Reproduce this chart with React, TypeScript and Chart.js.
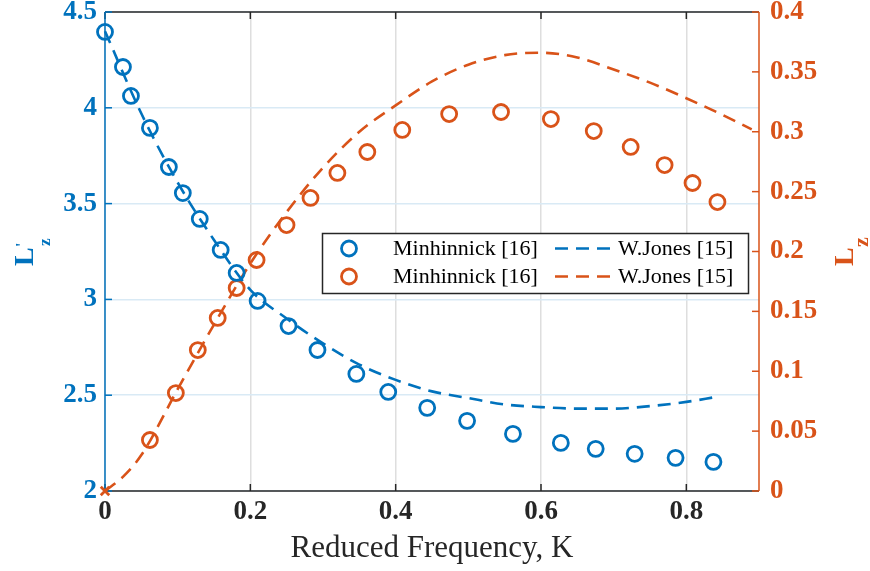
import React, { useEffect, useRef } from 'react';
import { Chart, registerables } from 'chart.js';

Chart.register(...registerables);

const BLUE = '#0072BD';
const ORANGE = '#D95319';
const FONT = "'Liberation Serif', 'DejaVu Serif', serif";

// L'z (left axis) — Minhinnick [16] measured points
const minLzpK = [0, 0.0247, 0.0357, 0.0618, 0.0879, 0.1071, 0.1304, 0.1592, 0.1812, 0.21, 0.2526, 0.2924, 0.3459, 0.3898, 0.4434, 0.4983, 0.5614, 0.6273, 0.6753, 0.7289, 0.7852, 0.8373];
const minLzpVal = [4.396, 4.213, 4.062, 3.895, 3.691, 3.555, 3.42, 3.258, 3.138, 2.992, 2.861, 2.736, 2.611, 2.517, 2.434, 2.366, 2.298, 2.251, 2.22, 2.194, 2.173, 2.152];

// L'z (left axis) — W.Jones [15] curve
const jonLzpK = [0, 0.05, 0.1, 0.15, 0.2, 0.25, 0.3, 0.35, 0.4, 0.45, 0.5, 0.55, 0.6, 0.65, 0.7, 0.75, 0.8, 0.84];
const jonLzpVal = [4.4, 3.97, 3.61, 3.31, 3.05, 2.9, 2.77, 2.66, 2.58, 2.52, 2.485, 2.452, 2.438, 2.43, 2.43, 2.443, 2.465, 2.49];

// Lz (right axis) — Minhinnick [16] measured points
const minLzK = [0.0618, 0.0975, 0.1277, 0.1551, 0.1812, 0.2086, 0.2498, 0.2828, 0.3198, 0.361, 0.4091, 0.4736, 0.545, 0.6136, 0.6726, 0.7234, 0.7701, 0.8085, 0.8428];
const minLzVal = [0.0426, 0.0818, 0.1177, 0.1445, 0.1695, 0.1929, 0.2221, 0.2447, 0.2656, 0.2831, 0.3015, 0.3148, 0.3165, 0.3106, 0.3006, 0.2873, 0.2722, 0.2572, 0.2413];

// Lz (right axis) — W.Jones [15] curve
const jonLzK = [0, 0.025, 0.05, 0.1, 0.15, 0.2, 0.25, 0.3, 0.35, 0.4, 0.45, 0.5, 0.55, 0.6, 0.65, 0.7, 0.75, 0.8, 0.85, 0.89];
const jonLzVal = [0, 0.012, 0.03, 0.085, 0.139, 0.19, 0.233, 0.27, 0.3, 0.322, 0.342, 0.356, 0.364, 0.366, 0.362, 0.352, 0.341, 0.328, 0.314, 0.302];

// origin marker (orange cross)
const originK = [0];
const originVal = [0];

const xTicks = [0, 0.2, 0.4, 0.6, 0.8];
const yLeftTicks = [2, 2.5, 3, 3.5, 4, 4.5];
const yRightTicks = [0, 0.05, 0.1, 0.15, 0.2, 0.25, 0.3, 0.35, 0.4];
const legendLabels = ['Minhinnick [16]', 'W.Jones [15]'];
const xTitle = 'Reduced Frequency, K';

const pts = (xs: number[], ys: number[]) => xs.map((x, i) => ({ x, y: ys[i] }));
const fmt = (v: number | string) => String(+Number(v).toFixed(2));

function line(ctx: CanvasRenderingContext2D, x1: number, y1: number, x2: number, y2: number) {
  ctx.beginPath();
  ctx.moveTo(x1, y1);
  ctx.lineTo(x2, y2);
  ctx.stroke();
}

const zeroPad = (s: any) => {
  s.paddingTop = 0;
  s.paddingBottom = 0;
  s.paddingLeft = 0;
  s.paddingRight = 0;
};

const axesPlugin = {
  id: 'matlabAxes',
  beforeDatasetsDraw(chart: any) {
    const { ctx, chartArea, scales } = chart;
    const { left, right, top, bottom } = chartArea;
    ctx.save();
    ctx.lineWidth = 1.5;
    ctx.strokeStyle = '#262626';
    line(ctx, left, top, right, top);
    line(ctx, left, bottom, right, bottom);
    xTicks.forEach((v) => {
      const px = scales.x.getPixelForValue(v);
      line(ctx, px, bottom, px, bottom - 7);
      line(ctx, px, top, px, top + 7);
    });
    ctx.strokeStyle = BLUE;
    line(ctx, left, top, left, bottom);
    yLeftTicks.forEach((v) => {
      const py = scales.yL.getPixelForValue(v);
      line(ctx, left, py, left + 7, py);
    });
    ctx.strokeStyle = ORANGE;
    line(ctx, right, top, right, bottom);
    yRightTicks.forEach((v) => {
      const py = scales.yR.getPixelForValue(v);
      line(ctx, right, py, right - 7, py);
    });
    ctx.restore();
  },
  afterDraw(chart: any) {
    const { ctx } = chart;
    const drawTitle = (tx: number, ty: number, color: string, prime: boolean, zSize: number, zX: number, zY: number) => {
      ctx.save();
      ctx.translate(tx, ty);
      ctx.rotate(-Math.PI / 2);
      ctx.fillStyle = color;
      ctx.textAlign = 'left';
      ctx.textBaseline = 'alphabetic';
      ctx.font = `bold 28px ${FONT}`;
      ctx.fillText('L', 0, 0);
      if (prime) {
        ctx.font = `bold 16px ${FONT}`;
        ctx.fillText("'", 19, -6);
      }
      ctx.font = `bold ${zSize}px ${FONT}`;
      ctx.fillText('z', zX, zY);
      ctx.restore();
    };
    drawTitle(33, 266, BLUE, true, 17, 20, 17);
    drawTitle(853, 266, ORANGE, false, 22, 19, 15);
  },
};

const legendPlugin = {
  id: 'boxLegend',
  afterDatasetsDraw(chart: any) {
    const { ctx } = chart;
    const ds = chart.data.datasets;
    const bx = 322.5, by = 233.5, bw = 426, bh = 60;
    ctx.save();
    ctx.fillStyle = '#ffffff';
    ctx.fillRect(bx, by, bw, bh);
    ctx.lineWidth = 1.5;
    ctx.strokeStyle = '#262626';
    ctx.strokeRect(bx, by, bw, bh);
    const rows = [
      { marker: ds[0], ln: ds[1], y: 248.5 },
      { marker: ds[2], ln: ds[3], y: 276.5 },
    ];
    rows.forEach((r) => {
      ctx.beginPath();
      ctx.lineWidth = r.marker.borderWidth;
      ctx.strokeStyle = r.marker.borderColor;
      ctx.arc(349, r.y, r.marker.pointRadius, 0, Math.PI * 2);
      ctx.stroke();
      ctx.fillStyle = '#000000';
      ctx.font = `22px ${FONT}`;
      ctx.textBaseline = 'middle';
      ctx.textAlign = 'left';
      ctx.fillText(r.marker.label, 393, r.y + 1);
      ctx.setLineDash(r.ln.borderDash);
      ctx.lineWidth = r.ln.borderWidth;
      ctx.strokeStyle = r.ln.borderColor;
      line(ctx, 555, r.y, 615, r.y);
      ctx.setLineDash([]);
      ctx.fillText(r.ln.label, 618, r.y + 1);
    });
    ctx.restore();
  },
};

export default function App() {
  const canvasRef = useRef<HTMLCanvasElement | null>(null);

  useEffect(() => {
    if (!canvasRef.current) return;
    const tickFont = { family: FONT, size: 27, weight: 'bold' as const };
    const chart = new Chart(canvasRef.current, {
      type: 'scatter',
      data: {
        datasets: [
          {
            label: legendLabels[0],
            data: pts(minLzpK, minLzpVal),
            yAxisID: 'yL',
            borderColor: BLUE,
            backgroundColor: 'rgba(0,0,0,0)',
            pointRadius: 7.5,
            pointHoverRadius: 7.5,
            borderWidth: 2.8,
            showLine: false,
            clip: false as any,
          },
          {
            label: legendLabels[1],
            data: pts(jonLzpK, jonLzpVal),
            yAxisID: 'yL',
            borderColor: BLUE,
            backgroundColor: BLUE,
            pointRadius: 0,
            borderWidth: 2.6,
            borderDash: [13, 8],
            showLine: true,
            cubicInterpolationMode: 'monotone',
            clip: false as any,
          },
          {
            label: legendLabels[0],
            data: pts(minLzK, minLzVal),
            yAxisID: 'yR',
            borderColor: ORANGE,
            backgroundColor: 'rgba(0,0,0,0)',
            pointRadius: 7.5,
            pointHoverRadius: 7.5,
            borderWidth: 2.8,
            showLine: false,
            clip: false as any,
          },
          {
            label: legendLabels[1],
            data: pts(jonLzK, jonLzVal),
            yAxisID: 'yR',
            borderColor: ORANGE,
            backgroundColor: ORANGE,
            pointRadius: 0,
            borderWidth: 2.6,
            borderDash: [13, 8],
            showLine: true,
            cubicInterpolationMode: 'monotone',
            clip: false as any,
          },
          {
            label: '',
            data: pts(originK, originVal),
            yAxisID: 'yR',
            borderColor: ORANGE,
            pointStyle: 'crossRot',
            pointRadius: 6,
            borderWidth: 2.8,
            showLine: false,
            clip: false as any,
          },
        ],
      },
      options: {
        responsive: false,
        animation: false,
        events: [],
        layout: { padding: { top: 12, left: 0, right: 0, bottom: 0 } },
        plugins: { legend: { display: false }, tooltip: { enabled: false } },
        scales: {
          x: {
            type: 'linear',
            min: 0,
            max: 0.9,
            afterBuildTicks: (s: any) => { s.ticks = xTicks.map((value) => ({ value })); },
            afterFit: (s: any) => { s.height = 80; zeroPad(s); },
            grid: { color: 'rgb(222,222,222)', lineWidth: 1.5, drawTicks: false },
            border: { display: false },
            ticks: { font: tickFont, color: '#262626', padding: 5, callback: fmt, maxRotation: 0, autoSkip: false },
            title: { display: true, text: xTitle, color: '#262626', font: { family: FONT, size: 31 }, padding: { top: 0, bottom: 4 } },
          },
          yL: {
            type: 'linear',
            position: 'left',
            min: 2,
            max: 4.5,
            afterBuildTicks: (s: any) => { s.ticks = yLeftTicks.map((value) => ({ value })); },
            afterFit: (s: any) => { s.width = 105; zeroPad(s); },
            grid: { color: 'rgb(217,234,245)', lineWidth: 1.5, drawTicks: false },
            border: { display: false },
            ticks: { font: tickFont, color: BLUE, padding: 8, callback: fmt, autoSkip: false },
          },
          yR: {
            type: 'linear',
            position: 'right',
            min: 0,
            max: 0.4,
            afterBuildTicks: (s: any) => { s.ticks = yRightTicks.map((value) => ({ value })); },
            afterFit: (s: any) => { s.width = 111; zeroPad(s); },
            grid: { display: false, drawTicks: false },
            border: { display: false },
            ticks: { font: tickFont, color: ORANGE, padding: 11, callback: fmt, autoSkip: false },
          },
        },
      } as any,
      plugins: [axesPlugin, legendPlugin],
    });
    return () => chart.destroy();
  }, []);

  return (
    <div style={{ position: 'fixed', left: 0, top: 0, width: 870, height: 571, background: '#ffffff' }}>
      <canvas ref={canvasRef} width={870} height={571} />
    </div>
  );
}
